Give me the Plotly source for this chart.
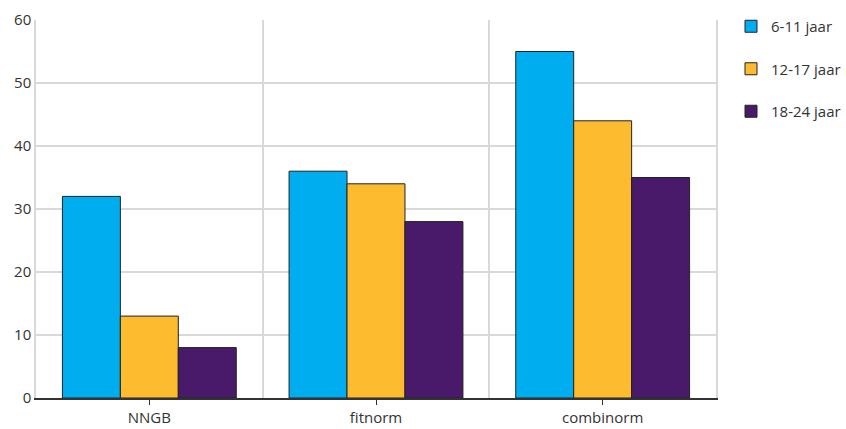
import plotly.graph_objects as go

categories = ["NNGB", "fitnorm", "combinorm"]
series_names = ["6-11 jaar", "12-17 jaar", "18-24 jaar"]
values_6_11 = [32, 36, 55]
values_12_17 = [13, 34, 44]
values_18_24 = [8, 28, 35]
y_ticks = [0, 10, 20, 30, 40, 50, 60]

colors = ["#00AEEF", "#FDBB30", "#4A1A6A"]
all_values = [values_6_11, values_12_17, values_18_24]

fig = go.Figure()
for i, (name, vals, col) in enumerate(zip(series_names, all_values, colors)):
    fig.add_trace(go.Bar(
        x=categories, y=vals, name=name,
        marker=dict(color=col, line=dict(color="#222222", width=1)),
        legendgroup=f"g{i}",
    ))

# invisible trace on overlaying axis for centered tick marks
fig.add_trace(go.Scatter(x=categories, y=[0, 0, 0], xaxis="x2", mode="markers",
                         marker=dict(opacity=0), showlegend=False, hoverinfo="skip"))

font_family = "Open Sans, Lato, sans-serif"
fig.update_layout(
    width=846, height=429,
    margin=dict(l=36, r=130, t=20, b=31, autoexpand=False),
    paper_bgcolor="white", plot_bgcolor="white",
    barmode="group", bargap=0.233, bargroupgap=0,
    font=dict(family=font_family, size=15, color="#333333"),
    showlegend=True,
    legend=dict(xref="container", yref="container", x=731/846, xanchor="left",
                y=1 - 10/429, yanchor="top",
                tracegroupgap=20, font=dict(size=15, color="#333333"),
                itemwidth=30),
    xaxis=dict(
        type="category", range=[-0.5, 2.5], tickson="boundaries",
        showgrid=True, gridcolor="#d9d9d9", gridwidth=1.5,
        showticklabels=False, ticks="", automargin=False,
        showline=True, linecolor="#333333", linewidth=1.5,
    ),
    xaxis2=dict(
        type="category", overlaying="x", matches="x", side="bottom",
        showgrid=False, ticks="outside", ticklen=6, tickcolor="#333333",
        showline=False, tickfont=dict(size=15, color="#333333"), automargin=False,
    ),
    yaxis=dict(
        range=[0, 60], tickvals=y_ticks, showgrid=True, gridcolor="#d9d9d9",
        gridwidth=1.5, zeroline=False, ticks="", automargin=False,
        showline=True, linecolor="#d9d9d9", linewidth=1.5, mirror=True,
        tickfont=dict(size=15, color="#333333"),
    ),
)

fig.write_html("out.html", config={"displayModeBar": False},
               post_script="document.body.style.margin='0';")
